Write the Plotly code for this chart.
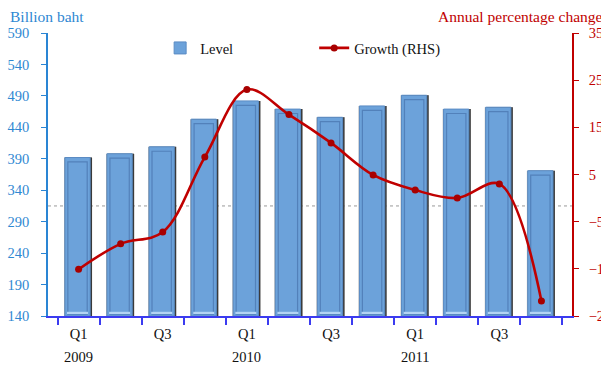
import plotly.graph_objects as go

# Quarterly series, 2009Q1 - 2011Q4
quarters = ["2009 Q1", "2009 Q2", "2009 Q3", "2009 Q4",
            "2010 Q1", "2010 Q2", "2010 Q3", "2010 Q4",
            "2011 Q1", "2011 Q2", "2011 Q3", "2011 Q4"]
tick_labels = ["Q1", "", "Q3", "", "Q1", "", "Q3", "", "Q1", "", "Q3", ""]
years = ["2009", "2010", "2011"]
year_anchor = ["2009 Q1", "2010 Q1", "2011 Q1"]

level = [392, 398, 409, 453, 482, 469, 456, 474, 491, 469, 472, 371]       # billion baht
growth = [-15.1, -9.7, -7.2, 8.7, 23.0, 17.7, 11.7, 4.9, 1.7, 0.0, 3.0, -21.8]  # % y/y

reference_level = 315

LEFT_MIN, LEFT_MAX = 140, 590
RIGHT_MIN, RIGHT_MAX = -25, 35

FONT = "Liberation Serif"
BLUE_TXT = "#2f88d2"
RED = "#c00000"
AXIS_BLUE = "#3b3bf0"

fig = go.Figure()

# bevelled bar look: shadow frame, dark right edge, body, inner bevel, bottom highlight
fig.add_trace(go.Bar(x=quarters, y=[v - LEFT_MIN for v in level], base=LEFT_MIN,
                     width=0.665, offset=-0.345, marker=dict(color="#a3a3a3", line_width=0),
                     showlegend=False, hoverinfo="skip"))
fig.add_trace(go.Bar(x=quarters, y=[v - LEFT_MIN for v in level], base=LEFT_MIN,
                     width=0.62, offset=-0.30, marker=dict(color="#3a3a3a", line_width=0),
                     showlegend=False, hoverinfo="skip"))
fig.add_trace(go.Bar(x=quarters, y=[v - LEFT_MIN for v in level], base=LEFT_MIN,
                     width=0.60, offset=-0.325, name="Level", legend="legend",
                     marker=dict(color="#6ca2da", line=dict(color="#5b8cc4", width=1))))
fig.add_trace(go.Bar(x=quarters, y=[v - LEFT_MIN - 10 for v in level], base=LEFT_MIN + 3,
                     width=0.46, offset=-0.255,
                     marker=dict(color="rgba(0,0,0,0)", line=dict(color="rgba(62,102,160,0.55)", width=1.2)),
                     showlegend=False, hoverinfo="skip"))
fig.add_trace(go.Bar(x=quarters, y=[2.2] * len(quarters), base=LEFT_MIN + 4.5,
                     width=0.50, offset=-0.275, marker=dict(color="#b3d4f4", line_width=0),
                     showlegend=False, hoverinfo="skip"))

fig.add_trace(go.Scatter(x=quarters, y=growth, yaxis="y2", name="Growth (RHS)", legend="legend2",
                         mode="lines+markers",
                         line=dict(color=RED, width=2.6, shape="spline", smoothing=1.0),
                         marker=dict(color="#a80000", size=7)))

fig.add_shape(type="line", xref="paper", x0=0, x1=1, yref="y", y0=reference_level, y1=reference_level,
              line=dict(color="#9a9a9a", width=1, dash="dot"), layer="below")

for yr, q in zip(years, year_anchor):
    fig.add_annotation(x=q, xref="x", y=-0.145, yref="paper", text=yr, showarrow=False,
                       font=dict(family=FONT, size=14.5, color="#111111"), xanchor="center", yanchor="middle")

fig.add_annotation(x=-0.0763, xref="paper", y=1.060, yref="paper", text="Billion baht", showarrow=False,
                   xanchor="left", yanchor="middle", font=dict(family=FONT, size=15.5, color=BLUE_TXT))
fig.add_annotation(x=0.740, xref="paper", y=1.060, yref="paper", text="Annual percentage change",
                   showarrow=False, xanchor="left", yanchor="middle",
                   font=dict(family=FONT, size=15.5, color=RED))

fig.update_layout(
    width=601, height=365,
    margin=dict(l=48, r=29, t=33, b=49, autoexpand=False),
    plot_bgcolor="white", paper_bgcolor="white",
    barmode="overlay",
    font=dict(family=FONT, size=14, color="#111111"),
    xaxis=dict(type="category", tickmode="array", tickvals=quarters, ticktext=tick_labels,
               tickson="boundaries", ticks="outside", ticklen=7, tickcolor=AXIS_BLUE, tickwidth=1.5,
               showline=True, linecolor=AXIS_BLUE, linewidth=2, showgrid=False, automargin=False,
               ticklabelstandoff=4,
               tickfont=dict(family=FONT, size=14.5, color="#111111")),
    yaxis=dict(range=[LEFT_MIN, LEFT_MAX], tick0=LEFT_MIN, dtick=50, showgrid=False, zeroline=False,
               showline=True, linecolor="#2a85d4", linewidth=1.5, ticks="outside", ticklen=5,
               tickcolor="#2a85d4", ticklabelstandoff=9, automargin=False,
               tickfont=dict(family=FONT, size=14.5, color=BLUE_TXT)),
    yaxis2=dict(range=[RIGHT_MIN, RIGHT_MAX], tick0=RIGHT_MIN, dtick=10, overlaying="y", side="right",
                showgrid=False, zeroline=False, showline=True, linecolor=RED, linewidth=1.5,
                ticks="outside", ticklen=5, tickcolor=RED, ticklabelstandoff=7, automargin=False,
                tickfont=dict(family=FONT, size=14.5, color=RED)),
    legend=dict(x=0.214, y=0.947, xanchor="left", yanchor="middle", bgcolor="rgba(0,0,0,0)",
                font=dict(family=FONT, size=14.5, color="#111111")),
    legend2=dict(x=0.508, y=0.947, xanchor="left", yanchor="middle", bgcolor="rgba(0,0,0,0)",
                 font=dict(family=FONT, size=14.5, color="#111111")),
)

fig.write_html("out.html")
